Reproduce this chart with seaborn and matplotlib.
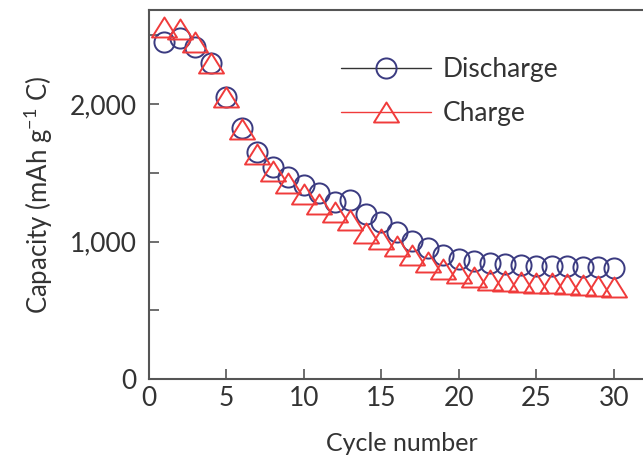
import numpy as np
import pandas as pd
import matplotlib.pyplot as plt
import matplotlib.ticker as mticker
from matplotlib.lines import Line2D
from matplotlib.path import Path
import seaborn as sns

# datos
ciclos = list(range(1, 31))
descarga = [2450, 2480, 2415, 2300, 2050, 1825, 1650, 1540, 1470, 1410,
            1350, 1290, 1300, 1200, 1145, 1070, 1005, 950, 900, 870,
            855, 845, 835, 832, 825, 822, 822, 817, 813, 805]
carga = [2560, 2545, 2450, 2300, 2050, 1820, 1640, 1510, 1425, 1347,
         1273, 1217, 1156, 1061, 1020, 970, 904, 851, 802, 771,
         744, 722, 713, 705, 698, 695, 693, 682, 678, 671]

NAVY = "#3a3a80"
RED = "#f03b3b"
GRIS = "#333333"

# triángulo algo más ancho que alto, como en la figura original
TRIANGULO = Path([(0, 0.8), (-1, -0.8), (1, -0.8), (0, 0.8)],
                 [Path.MOVETO, Path.LINETO, Path.LINETO, Path.CLOSEPOLY])

sns.set_style("ticks")
plt.rcParams['font.family'] = ['Lato', 'DejaVu Sans']
plt.rcParams['mathtext.fontset'] = 'custom'
plt.rcParams['mathtext.rm'] = 'Lato'

df = pd.DataFrame({"Ciclo": ciclos, "Descarga": descarga, "Carga": carga})

fig = plt.figure(figsize=(6.43, 4.61), dpi=100)
ax = fig.add_axes([149/643, 1 - 379/461, 505/643, 369/461])

sns.lineplot(data=df, x="Ciclo", y="Descarga", ax=ax, lw=0, marker="o", markersize=14.5,
             markerfacecolor="none", markeredgecolor=NAVY, markeredgewidth=1.4)
sns.lineplot(data=df, x="Ciclo", y="Carga", ax=ax, lw=0, marker=TRIANGULO, markersize=18,
             markerfacecolor="none", markeredgecolor=RED, markeredgewidth=1.4)

ax.set_xlim(0, 32.6)
ax.set_ylim(0, 2684)
ax.xaxis.set_major_locator(mticker.MultipleLocator(5))
ax.yaxis.set_major_locator(mticker.MultipleLocator(500))
ax.yaxis.set_major_formatter(mticker.FuncFormatter(
    lambda v, p: f"{int(v):,}" if v % 1000 == 0 else ""))
ax.tick_params(direction="in", length=7, width=1.2, colors="#555555",
               labelcolor=GRIS, labelsize=19)
ax.tick_params(axis="y", pad=9)
ax.tick_params(axis="x", pad=5)
for lado in ["left", "bottom", "top", "right"]:
    ax.spines[lado].set_color("#555555")
    ax.spines[lado].set_linewidth(1.5)

ax.set_xlabel("Cycle number", fontsize=18, color=GRIS, labelpad=15)
ax.set_ylabel("Capacity (mAh g$^{-1}$ C)", fontsize=18.5, color=GRIS, labelpad=10)

manejadores = [
    Line2D([], [], color=GRIS, lw=1, marker="o", markersize=14.5, markerfacecolor="none",
           markeredgecolor=NAVY, markeredgewidth=1.4),
    Line2D([], [], color=RED, lw=1, marker=TRIANGULO, markersize=18, markerfacecolor="none",
           markeredgecolor=RED, markeredgewidth=1.4),
]
ax.legend(manejadores, ["Discharge", "Charge"], loc="upper left",
          bbox_to_anchor=(341/643, 1 - 57/461), bbox_transform=fig.transFigure,
          frameon=False, fontsize=19, handlelength=3.4, handletextpad=0.45,
          borderpad=0, borderaxespad=0, labelspacing=0.72, labelcolor=GRIS)

fig.savefig("out.png", dpi=100)
